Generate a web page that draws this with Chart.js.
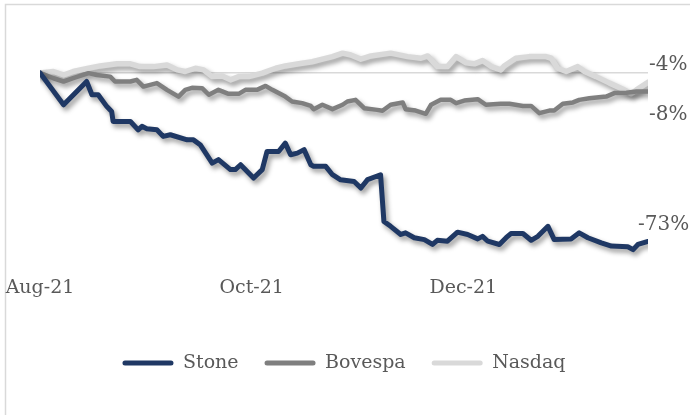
<!DOCTYPE html>
<html>
<head>
<meta charset="utf-8">
<script src="https://cdn.jsdelivr.net/npm/chart.js@4.4.0/dist/chart.umd.min.js"></script>
<style>
  html, body { margin: 0; padding: 0; background: #ffffff; }
  #wrap { width: 690px; height: 415px; position: relative; }
</style>
</head>
<body>
<div id="wrap"><canvas id="c" width="690" height="415"></canvas></div>
<script>
// ---- Data (trading-day index from Aug 2, 2021; values = % change) ----
const seriesNames = ['Stone', 'Bovespa', 'Nasdaq'];
const endLabels = ['-73%', '-8%', '-4%'];
const tickDays = [0, 44, 88];
const tickLabels = ['Aug-21', 'Oct-21', 'Dec-21'];

const stoneDays = [0, 4.9, 9.7, 10.8, 12.1, 13.9, 14.9, 15.2, 18.8, 20.4, 21.2, 22.2, 24.3, 25.6, 27.1, 30.6, 31.9, 33.3, 35.8, 37.1, 39.6, 40.6, 41.7, 44.4, 46.2, 47.2, 49.6, 51.0, 52.1, 53.5, 54.9, 56.3, 56.9, 59.4, 60.8, 62.5, 65.3, 66.7, 68.1, 70.8, 71.5, 72.9, 75.0, 76.0, 77.8, 79.9, 81.6, 82.6, 84.7, 86.8, 88.9, 91.0, 92.0, 93.1, 95.5, 96.9, 97.9, 100.4, 102.1, 103.5, 105.6, 106.9, 110.4, 112.1, 113.9, 116.7, 118.8, 122.2, 123.3, 124.3, 126.4];
const stoneValues = [0, -13.7, -3.7, -9.4, -9.4, -14.5, -16.6, -20.9, -20.9, -24.5, -23.0, -24.0, -24.5, -27.3, -26.6, -28.8, -28.8, -30.9, -38.8, -37.3, -41.6, -41.6, -39.5, -45.2, -41.6, -33.8, -33.8, -30.2, -35.2, -34.5, -33.0, -39.5, -40.2, -40.2, -43.8, -46.0, -46.7, -49.5, -45.9, -43.8, -63.9, -66.0, -69.5, -68.8, -70.9, -71.7, -73.8, -72.0, -72.4, -68.5, -69.5, -71.4, -70.3, -72.4, -73.8, -70.9, -69.1, -69.1, -72.0, -70.3, -66.0, -71.7, -71.4, -68.8, -70.9, -73.1, -74.5, -74.8, -76.0, -73.8, -72.5];

const bovespaDays = [0, 2.8, 4.9, 6.9, 10.1, 11.8, 14.6, 15.6, 18.8, 20.1, 21.5, 24.3, 26.4, 28.8, 30.2, 31.6, 33.7, 35.1, 37.1, 39.2, 41.3, 42.7, 45.1, 46.9, 48.3, 51.0, 52.4, 54.5, 56.3, 56.9, 58.7, 60.8, 62.9, 63.9, 65.6, 67.4, 70.1, 71.2, 72.9, 75.4, 76.0, 78.1, 80.2, 81.3, 83.3, 85.4, 86.5, 88.2, 91.0, 92.7, 95.8, 97.6, 100.4, 102.1, 103.8, 105.9, 106.9, 108.7, 110.8, 112.1, 114.2, 117.7, 119.4, 121.9, 124.0, 126.4];
const bovespaValues = [0, -2.3, -3.7, -2.3, -0.1, -0.9, -1.6, -3.7, -3.7, -3.0, -5.9, -4.4, -7.3, -10.2, -7.3, -6.4, -6.6, -9.4, -7.3, -9.0, -9.0, -7.3, -7.3, -5.6, -7.3, -10.2, -12.3, -13.0, -14.2, -15.6, -13.7, -15.6, -13.7, -12.3, -11.6, -15.2, -15.9, -16.3, -13.7, -12.7, -15.6, -16.2, -17.6, -13.7, -11.6, -11.6, -13.0, -11.9, -11.3, -13.7, -13.3, -13.3, -14.2, -14.2, -17.3, -16.2, -16.2, -13.3, -12.7, -11.6, -10.9, -10.2, -8.7, -8.5, -8.0, -8.0];

const nasdaqDays = [0, 2.8, 4.9, 6.9, 10.1, 12.5, 16.0, 18.8, 20.8, 23.6, 26.4, 28.5, 30.2, 32.3, 34.0, 35.8, 37.9, 39.6, 41.3, 43.4, 46.2, 49.0, 51.0, 53.8, 56.6, 58.7, 60.8, 62.9, 64.6, 66.7, 68.8, 72.9, 76.4, 79.2, 80.6, 82.6, 84.7, 86.5, 88.5, 90.3, 92.0, 93.8, 95.8, 96.5, 98.9, 101.7, 105.2, 106.3, 107.6, 109.4, 111.8, 113.2, 115.6, 118.4, 121.2, 122.9, 124.0, 126.4];
const nasdaqValues = [0, 0.6, -0.9, 0.6, 2.0, 3.0, 3.9, 3.9, 2.7, 2.7, 3.4, 1.3, 0.6, 2.0, 1.3, -1.6, -1.3, -3.0, -1.6, -1.6, -0.1, 2.0, 3.0, 3.9, 4.8, 5.9, 7.0, 8.5, 7.7, 5.9, 7.3, 8.5, 7.0, 6.3, 7.3, 2.7, 2.7, 7.0, 4.4, 3.9, 5.3, 2.7, 1.3, 3.0, 6.3, 7.0, 7.0, 6.3, 2.0, 0.6, 2.7, 0.6, -1.6, -4.4, -7.0, -9.0, -7.3, -4.0];

const seriesColors = ['#1F3864', '#7F7F7F', '#D9D9D9'];
const seriesWidths = [5, 4.5, 5.5];

// ---- Build ----
const toPoints = (xs, ys) => xs.map((x, i) => ({ x: x, y: ys[i] }));
const allDays = [stoneDays, bovespaDays, nasdaqDays];
const allValues = [stoneValues, bovespaValues, nasdaqValues];

const FONT = "'DejaVu Serif', 'Liberation Serif', serif";
const TEXT = '#595959';

const frame = {
  id: 'frame',
  beforeDraw(chart) {
    const ctx = chart.ctx;
    ctx.save();
    ctx.fillStyle = '#ffffff';
    ctx.fillRect(0, 0, chart.width, chart.height);
    ctx.strokeStyle = '#D9D9D9';
    ctx.lineWidth = 1.5;
    ctx.beginPath();
    ctx.moveTo(5.5, chart.height);
    ctx.lineTo(5.5, 4.5);
    ctx.lineTo(chart.width, 4.5);
    ctx.stroke();
    ctx.restore();
  }
};

const shadow = {
  id: 'shadow',
  beforeDatasetDraw(chart) {
    const ctx = chart.ctx;
    ctx.save();
    ctx.shadowColor = 'rgba(0,0,0,0.4)';
    ctx.shadowBlur = 5;
    ctx.shadowOffsetX = 2.5;
    ctx.shadowOffsetY = 3.5;
  },
  afterDatasetDraw(chart) {
    chart.ctx.restore();
  }
};

const labelOffsets = [{ dx: -10, dy: -17 }, { dx: 1, dy: 23 }, { dx: 1, dy: -17 }];
const endLabelPlugin = {
  id: 'endLabels',
  afterDatasetsDraw(chart) {
    const ctx = chart.ctx;
    ctx.save();
    ctx.font = "20px " + FONT;
    ctx.fillStyle = TEXT;
    ctx.textAlign = 'left';
    ctx.textBaseline = 'middle';
    chart.data.datasets.forEach((ds, i) => {
      const meta = chart.getDatasetMeta(i);
      const pt = meta.data[meta.data.length - 1];
      ctx.fillText(endLabels[i], pt.x + labelOffsets[i].dx, pt.y + labelOffsets[i].dy);
    });
    ctx.restore();
  }
};

new Chart(document.getElementById('c'), {
  type: 'line',
  data: {
    datasets: seriesNames.map((name, i) => ({
      label: name,
      data: toPoints(allDays[i], allValues[i]),
      borderColor: seriesColors[i],
      backgroundColor: seriesColors[i],
      borderWidth: seriesWidths[i],
      pointRadius: 0,
      tension: 0,
      fill: false,
      borderJoinStyle: 'round',
      borderCapStyle: 'round'
    }))
  },
  options: {
    responsive: false,
    animation: false,
    devicePixelRatio: 1,
    layout: { padding: { top: 30, left: 40, right: 42, bottom: 32.5 } },
    plugins: {
      tooltip: { enabled: false },
      legend: {
        position: 'bottom',
        labels: {
          font: { family: FONT, size: 19 },
          color: TEXT,
          boxWidth: 51,
          boxHeight: 5,
          padding: 26,
          useBorderRadius: true,
          borderRadius: 2.5,
          generateLabels(chart) {
            return Chart.defaults.plugins.legend.labels.generateLabels(chart).map(l => {
              l.lineWidth = 0;
              l.fillStyle = seriesColors[l.datasetIndex];
              l.strokeStyle = seriesColors[l.datasetIndex];
              return l;
            });
          }
        }
      }
    },
    scales: {
      x: {
        type: 'linear',
        min: 0,
        max: 126.4,
        border: { display: false },
        grid: { display: false, drawTicks: false },
        afterBuildTicks(scale) { scale.ticks = tickDays.map(v => ({ value: v })); },
        afterFit(scale) { scale.height = 53.5; },
        ticks: {
          autoSkip: false,
          maxRotation: 0,
          padding: 3,
          color: TEXT,
          font: { family: FONT, size: 19 },
          callback(v) { const k = tickDays.indexOf(v); return k >= 0 ? tickLabels[k] : ''; }
        }
      },
      y: {
        min: -86.5,
        max: 18.45,
        border: { display: false },
        grid: {
          drawTicks: false,
          lineWidth: 1.5,
          color: (c) => (c.tick && c.tick.value === 0 ? '#D9D9D9' : 'rgba(0,0,0,0)')
        },
        ticks: { display: false, stepSize: 10 }
      }
    }
  },
  plugins: [frame, shadow, endLabelPlugin]
});
</script>
</body>
</html>
